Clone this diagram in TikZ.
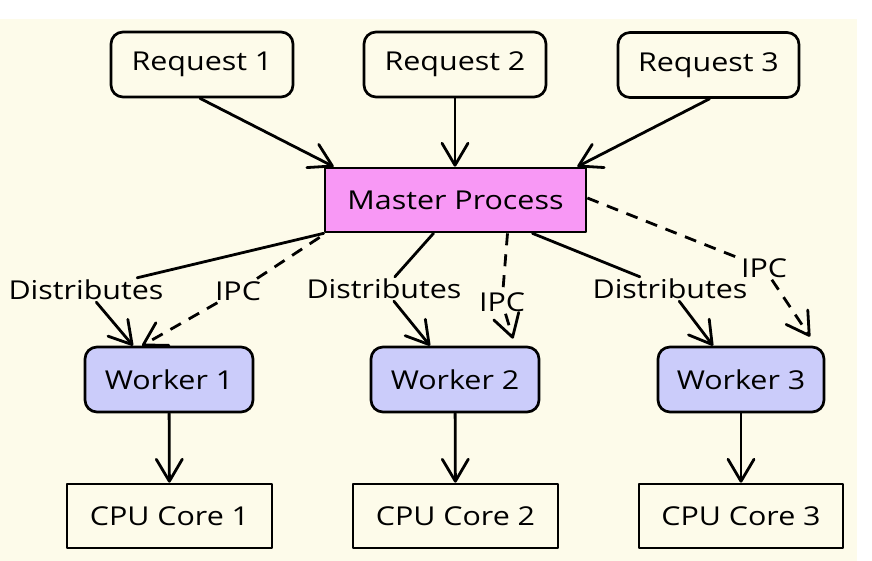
\documentclass[tikz,border=0pt]{standalone}
\usepackage{fontspec}
\setmainfont{Open Sans}[FakeStretch=1.17]
\usetikzlibrary{arrows.meta}
\definecolor{bgcream}{RGB}{253,251,234}
\definecolor{masterpink}{RGB}{248,152,245}
\definecolor{workerblue}{RGB}{203,204,250}
\begin{document}
\begin{tikzpicture}[x=1pt,y=-1pt,
  txt/.style={font=\fontsize{26}{31}\selectfont},
  box/.style={txt, draw=black, line width=2.7pt, inner sep=0pt, align=center, line join=round},
  reqbox/.style={box, rounded corners=12pt, minimum width=182pt, minimum height=65pt},
  masterbox/.style={box, fill=masterpink, minimum width=261pt, minimum height=64pt},
  workerbox/.style={box, fill=workerblue, rounded corners=12pt, minimum width=168pt, minimum height=65pt},
  cpubox/.style={box, minimum width=205pt, minimum height=64pt},
  lbl/.style={txt, inner sep=2pt},
  ln/.style={line width=2.8pt, line cap=round},
  arr/.style={ln, -{Straight Barb[length=22pt,width=26pt,round]}},
  dsh/.style={dash pattern=on 12pt off 9pt, line cap=butt}
]
\fill[white] (0,0) rectangle (872,561);
\fill[bgcream] (0,19) rectangle (857,561);

% nodes
\node[reqbox] (r1) at (202,64.5) {Request 1};
\node[reqbox] (r2) at (455,64.5) {Request 2};
\node[reqbox, minimum width=181pt] (r3) at (708.5,65) {Request 3};
\node[masterbox] (m) at (455.5,200) {Master Process};
\node[workerbox] (w1) at (169,379.5) {Worker 1};
\node[workerbox] (w2) at (455,379.5) {Worker 2};
\node[workerbox, minimum width=166pt] (w3) at (741,379.5) {Worker 3};
\node[cpubox] (c1) at (169.5,516) {CPU Core 1};
\node[cpubox] (c2) at (455.5,516) {CPU Core 2};
\node[cpubox, minimum width=204pt] (c3) at (741,516) {CPU Core 3};

% labels
\node[lbl] (d1) at (86,290) {Distributes};
\node[lbl] (i1) at (238,291) {IPC};
\node[lbl] (d2) at (384,289) {Distributes};
\node[lbl] (i2) at (502,302) {IPC};
\node[lbl] (d3) at (670,289) {Distributes};
\node[lbl] (i3) at (764,268) {IPC};

% requests to master
\draw[arr] ([xshift=-2pt]r1.south) -- ([xshift=10pt]m.north west);
\draw[arr] (r2.south) -- (m.north -| r2.south);
\draw[arr] ([xshift=1pt]r3.south) -- ([xshift=-10pt]m.north east);

% master to workers
\draw[ln] (m.south west) -- (d1);
\draw[arr] (d1) -- ([xshift=-36pt]w1.north);
\draw[ln, dsh] ([xshift=-4pt,yshift=-4pt]m.south west) -- (i1);
\draw[arr, dsh] (i1) -- ([xshift=-27pt]w1.north);

\draw[ln] ([xshift=-22pt]m.south) -- (d2);
\draw[arr] (d2) -- ([xshift=-25pt]w2.north);
\draw[ln, dsh] ([xshift=52pt]m.south) -- (i2);
\draw[arr, dsh] (i2) -- ([xshift=58pt,yshift=7pt]w2.north);

\draw[ln] ([xshift=77pt]m.south) -- (d3);
\draw[arr] (d3) -- ([xshift=-28pt]w3.north);
\draw[ln, dsh] ([yshift=2pt]m.east) -- (i3);
\draw[arr, dsh] (i3) -- ([xshift=69pt,yshift=9pt]w3.north);

% workers to cores
\draw[arr] (w1) -- (c1);
\draw[arr] (w2) -- (c2);
\draw[arr] (w3) -- (c3);
\end{tikzpicture}
\end{document}
